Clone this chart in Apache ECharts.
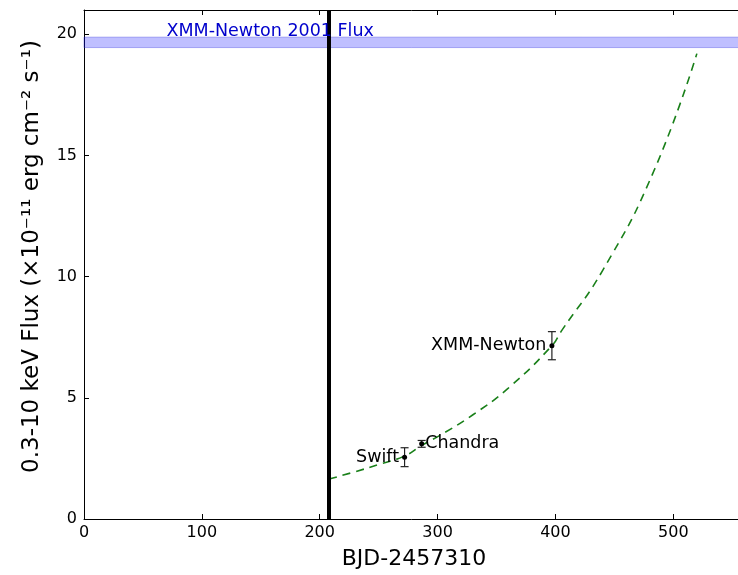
<!DOCTYPE html>
<html>
<head>
<meta charset="utf-8">
<script src="https://cdn.jsdelivr.net/npm/echarts@6/dist/echarts.min.js"></script>
<style>
html,body{margin:0;padding:0;background:#fff;}
#chart{width:738px;height:575px;}
</style>
</head>
<body>
<div id="chart"></div>
<script>
// ---- data ----
const xTicks = [0, 100, 200, 300, 400, 500];
const yTicks = [0, 5, 10, 15, 20];
const obsNames = ['Swift', 'Chandra', 'XMM-Newton'];
const obsX = [272, 286.5, 397];
const obsY = [2.55, 3.1, 7.15];
const obsErr = [0.39, 0.14, 0.58];
const fitX = [208, 230, 250, 272, 287, 302, 330, 360, 397, 405, 440, 483, 520];
const fitY = [1.65, 1.95, 2.25, 2.6, 3.05, 3.45, 4.3, 5.4, 7.15, 7.75, 10.25, 14.3, 19.2];
const refLineX = 208;
const bandLow = 19.45;
const bandHigh = 19.88;
const bandLabel = 'XMM-Newton 2001 Flux';
const bandLabelX = 70;

const FONT = 'DejaVu Sans';
const chart = echarts.init(document.getElementById('chart'), null, {renderer: 'canvas'});

const tickFmt = list => v => list.indexOf(v) >= 0 ? String(v) : '';

const axisCommon = {
  axisLine: {show: true, onZero: false, lineStyle: {color: '#000', width: 1}},
  axisTick: {show: true, inside: true, length: 5, lineStyle: {color: '#000', width: 1}},
  splitLine: {show: false}
};

const option = {
  animation: false,
  backgroundColor: '#fff',
  grid: {left: 84, top: 10, width: 660, height: 509, containLabel: false, outerBoundsMode: 'none'},
  xAxis: [
    Object.assign({
      type: 'value', min: 0, max: 560, interval: 100, position: 'bottom',
      name: 'BJD-2457310', nameLocation: 'middle', nameGap: 29,
      nameTextStyle: {fontFamily: FONT, fontSize: 22, color: '#000'},
      axisLabel: {fontFamily: FONT, fontSize: 16, color: '#000', margin: 6, formatter: tickFmt(xTicks)}
    }, axisCommon),
    Object.assign({
      type: 'value', min: 0, max: 560, interval: 100, position: 'top',
      axisLabel: {show: false}
    }, axisCommon)
  ],
  yAxis: [
    Object.assign({
      type: 'value', min: 0, max: 21, interval: 5, position: 'left',
      name: '0.3-10 keV Flux (×10⁻¹¹ erg cm⁻² s⁻¹)', nameLocation: 'middle', nameGap: 40, nameRotate: 90,
      nameTextStyle: {fontFamily: FONT, fontSize: 23, color: '#000', padding: [0, 0, 0, 16]},
      axisLabel: {fontFamily: FONT, fontSize: 16, color: '#000', margin: 7, formatter: tickFmt(yTicks)}
    }, axisCommon),
    Object.assign({
      type: 'value', min: 0, max: 21, interval: 5, position: 'right',
      axisLabel: {show: false}
    }, axisCommon)
  ],
  series: [
    {
      type: 'line',
      data: fitX.map((x, i) => [x, fitY[i]]),
      smooth: true,
      showSymbol: false,
      lineStyle: {color: '#1a801a', width: 1.6, type: [8, 6]},
      z: 2,
      markArea: {
        silent: true,
        itemStyle: {color: 'rgba(0,0,255,0.25)', borderColor: 'rgba(40,40,220,0.35)', borderWidth: 1},
        data: [[{yAxis: bandLow}, {yAxis: bandHigh}]]
      },
      markLine: {
        silent: true,
        symbol: ['none', 'none'],
        label: {show: false},
        lineStyle: {color: '#000', width: 4, type: 'solid', opacity: 1},
        data: [{xAxis: refLineX}]
      }
    },
    {
      type: 'scatter',
      data: [[bandLabelX, bandHigh]],
      symbolSize: 0,
      z: 5,
      label: {
        show: true, position: [0, 0], align: 'left', verticalAlign: 'bottom', offset: [0, 3],
        formatter: bandLabel, fontFamily: FONT, fontSize: 17.5, color: '#0000cc', opacity: 1,
        textBorderWidth: 0
      }
    },
    {
      type: 'custom',
      z: 4,
      data: obsX.map((x, i) => [x, obsY[i], obsErr[i]]),
      renderItem: function (params, api) {
        const x = api.value(0), y = api.value(1), e = api.value(2);
        const lo = api.coord([x, y - e]);
        const hi = api.coord([x, y + e]);
        const st = {stroke: '#222', lineWidth: 1.2};
        return {
          type: 'group',
          children: [
            {type: 'line', shape: {x1: lo[0], y1: lo[1], x2: hi[0], y2: hi[1]}, style: st},
            {type: 'line', shape: {x1: lo[0] - 4, y1: lo[1], x2: lo[0] + 4, y2: lo[1]}, style: st},
            {type: 'line', shape: {x1: hi[0] - 4, y1: hi[1], x2: hi[0] + 4, y2: hi[1]}, style: st}
          ]
        };
      }
    },
    {
      type: 'scatter',
      z: 6,
      symbolSize: 5,
      itemStyle: {color: '#000', opacity: 1},
      data: obsX.map((x, i) => ({
        value: [x, obsY[i]],
        name: obsNames[i],
        label: {
          show: true,
          position: obsNames[i] === 'Chandra' ? 'right' : 'left',
          distance: obsNames[i] === 'Chandra' ? 1 : 3,
          formatter: obsNames[i],
          fontFamily: FONT, fontSize: 17.5, color: '#000', opacity: 1, textBorderWidth: 0
        }
      }))
    }
  ]
};
chart.setOption(option);
</script>
</body>
</html>
